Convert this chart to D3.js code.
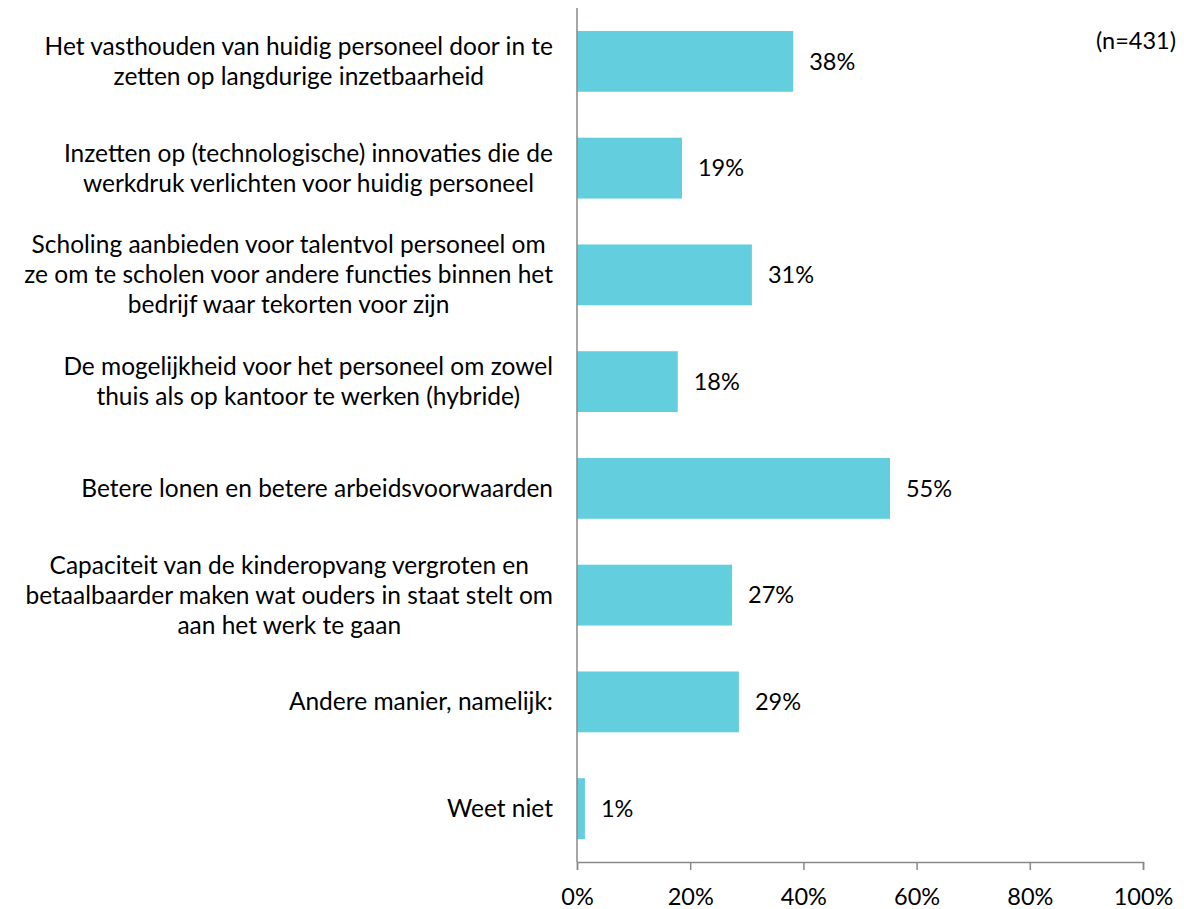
<!DOCTYPE html>
<html>
<head>
<meta charset="utf-8">
<script src="https://cdn.jsdelivr.net/npm/d3@7"></script>
<style>
  body { margin: 0; background: #fff; }
  svg text { font-family: Lato, "Open Sans", sans-serif; fill: #000; }
</style>
</head>
<body>
<svg id="container"></svg>
<script>
// categories, each one split into lines as in the original
const categories = [
	["Het vasthouden van huidig personeel door in te", "zetten op langdurige inzetbaarheid"],
	["Inzetten op (technologische) innovaties die de", "werkdruk verlichten voor huidig personeel"],
	["Scholing aanbieden voor talentvol personeel om", "ze om te scholen voor andere functies binnen het", "bedrijf waar tekorten voor zijn"],
	["De mogelijkheid voor het personeel om zowel", "thuis als op kantoor te werken (hybride)"],
	["Betere lonen en betere arbeidsvoorwaarden"],
	["Capaciteit van de kinderopvang vergroten en", "betaalbaarder maken wat ouders in staat stelt om", "aan het werk te gaan"],
	["Andere manier, namelijk:"],
	["Weet niet"]
];
const values = [0.382, 0.1855, 0.309, 0.178, 0.553, 0.274, 0.286, 0.014];
const xTicks = [0, 0.2, 0.4, 0.6, 0.8, 1];
const note = "(n=431)";

const W = 1184, H = 909;
const margin = { top: 8, right: 41, bottom: 47, left: 577 };
const w = W - margin.left - margin.right,
	h = H - margin.top - margin.bottom;

const svg = d3.select("#container")
	.attr("width", W)
	.attr("height", H);

const g = svg.append("g")
	.attr("transform", "translate(" + margin.left + "," + margin.top + ")");

const xScale = d3.scaleLinear().domain([0, 1]).range([0, w]);
const yScale = d3.scaleBand().domain(d3.range(categories.length)).range([0, h])
	.paddingInner(0.43).paddingOuter(0.215);
const pct = d3.format(".0%");

// bars
g.selectAll(".bar")
	.data(values)
	.enter()
	.append("rect")
	.attr("class", "bar")
	.attr("x", 0)
	.attr("y", (d, i) => yScale(i))
	.attr("width", d => xScale(d))
	.attr("height", yScale.bandwidth())
	.attr("fill", "#63cfde");

// value labels
g.selectAll(".val")
	.data(values)
	.enter()
	.append("text")
	.attr("class", "val")
	.attr("x", d => xScale(d) + 16)
	.attr("y", (d, i) => yScale(i) + yScale.bandwidth() / 2)
	.attr("dy", "0.35em")
	.style("font-size", "23.5px")
	.text(d => pct(d));

// x axis
const gX = g.append("g")
	.attr("transform", "translate(0," + h + ")")
	.call(d3.axisBottom(xScale).tickValues(xTicks).tickFormat(pct).tickSize(8));
gX.select(".domain").attr("stroke", "#898989").attr("stroke-width", 1.5);
gX.selectAll(".tick line").attr("stroke", "#898989").attr("stroke-width", 1.5);
gX.selectAll(".tick text")
	.attr("y", 35)
	.attr("dy", "0.35em")
	.style("font-size", "23.5px")
	.attr("fill", "#000");

// y axis line (no ticks)
g.append("line")
	.attr("x1", 0).attr("x2", 0)
	.attr("y1", 0).attr("y2", h)
	.attr("stroke", "#898989")
	.attr("stroke-width", 1.5);

// category labels: block right-aligned to the axis, lines centred in the block
const lineH = 30;
const labelRight = -24;
categories.forEach((lines, i) => {
	const t = g.append("text")
		.attr("class", "cat")
		.style("font-size", "24.5px")
		.attr("text-anchor", "middle");
	const spans = lines.map((line, j) => t.append("tspan")
		.attr("y", yScale(i) + yScale.bandwidth() / 2 + (j - (lines.length - 1) / 2) * lineH)
		.attr("dy", "0.35em")
		.text(line));
	const maxW = d3.max(spans, s => s.node().getComputedTextLength());
	spans.forEach(s => s.attr("x", labelRight - maxW / 2));
});

// sample size note
svg.append("text")
	.attr("x", 1176)
	.attr("y", 41)
	.attr("dy", "0.35em")
	.attr("text-anchor", "end")
	.style("font-size", "23.5px")
	.text(note);
</script>
</body>
</html>
